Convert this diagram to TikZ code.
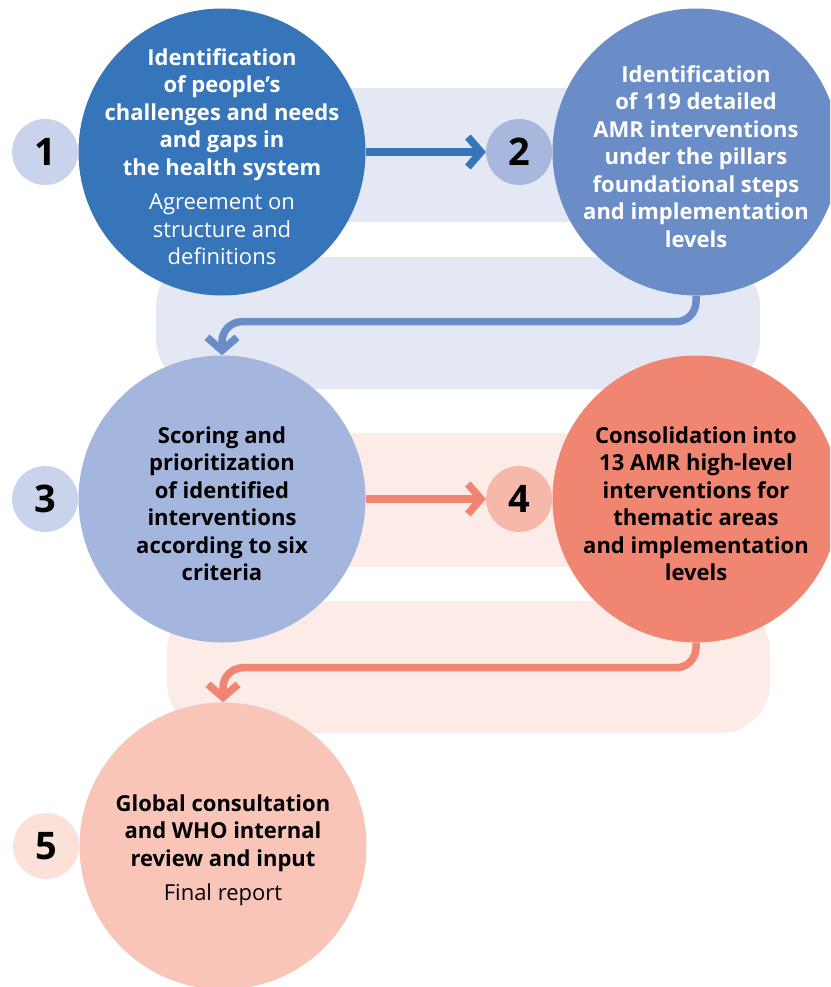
\documentclass[tikz,border=0pt]{standalone}
\usepackage{fontspec}
\setmainfont{Open Sans}
\usetikzlibrary{arrows.meta,positioning}

\definecolor{stepA}{HTML}{3775BA}
\definecolor{stepB}{HTML}{6A8DC8}
\definecolor{stepC}{HTML}{A5B6DE}
\definecolor{stepD}{HTML}{F08571}
\definecolor{stepE}{HTML}{F8C5B8}
\definecolor{numA}{HTML}{C9D3EC}
\definecolor{numB}{HTML}{A7B7DD}
\definecolor{numD}{HTML}{F6B9A9}
\definecolor{numE}{HTML}{FCE1D9}
\definecolor{bandBlue}{HTML}{E4E8F5}
\definecolor{bandPink}{HTML}{FCEBE6}

\begin{document}
\begin{tikzpicture}[x=1pt,y=-1pt,
    bigcirc/.style={circle,minimum size=287pt,inner sep=0pt},
    steptext/.style={align=center,inner sep=0pt,yshift=-4.5pt,
        font=\fontsize{22}{27.5}\selectfont\bfseries},
    numcirc/.style={circle,minimum size=66pt,inner sep=0pt,
        font=\fontsize{38}{38}\selectfont\bfseries},
    flow/.style={line width=7.5pt,-{Straight Barb[length=13pt,width=30pt]}}]
    % page
    \clip (0,0) rectangle (830,987);
    % background bands
    \fill[bandBlue] (300,88) rectangle (640,222);
    \fill[bandBlue,rounded corners=50pt] (156,257) rectangle (760,389);
    \fill[bandPink] (300,433) rectangle (640,567);
    \fill[bandPink,rounded corners=50pt] (167,601) rectangle (770,733);
    % steps
    \foreach \i/\x/\y/\col in {1/222/152/stepA,2/696/152/stepB,3/222/499/stepC,
                               4/696/499/stepD,5/223/846/stepE}
        \node[bigcirc,fill=\col] (c\i) at (\x,\y) {};
    \node[steptext,text=white] (t1) at (c1)
        {Identification\\of people’s\\challenges and needs\\and gaps in\\the health system\\[7pt]
         \mdseries Agreement on\\\mdseries structure and\\\mdseries definitions};
    \node[steptext,text=white] (t2) at (c2)
        {Identification\\of 119 detailed\\AMR interventions\\under the pillars\\foundational steps\\and implementation\\levels};
    \node[steptext] (t3) at (c3)
        {Scoring and\\prioritization\\of identified\\interventions\\according to six\\criteria};
    \node[steptext] (t4) at (c4)
        {Consolidation into\\13 AMR high-level\\interventions for\\thematic areas\\and implementation\\levels};
    \node[steptext] (t5) at (c5)
        {Global consultation\\and WHO internal\\review and input\\[7pt]
         \mdseries Final report};
    % numbers
    \foreach \i/\col in {1/numA,2/numB,3/numA,4/numD,5/numE}
        \node[numcirc,fill=\col,left=0pt of c\i] (n\i) {\i};
    % arrows
    \draw[flow,stepA] (c1.east) -- (n2.west);
    \draw[flow,stepB,rounded corners=20pt] (c2.south) -- ++(0,26) -| (c3.north);
    \draw[flow,stepD] (c3.east) -- (n4.west);
    \draw[flow,stepD,rounded corners=20pt] (c4.south) -- ++(0,25) -| (c5.north);
\end{tikzpicture}
\end{document}
